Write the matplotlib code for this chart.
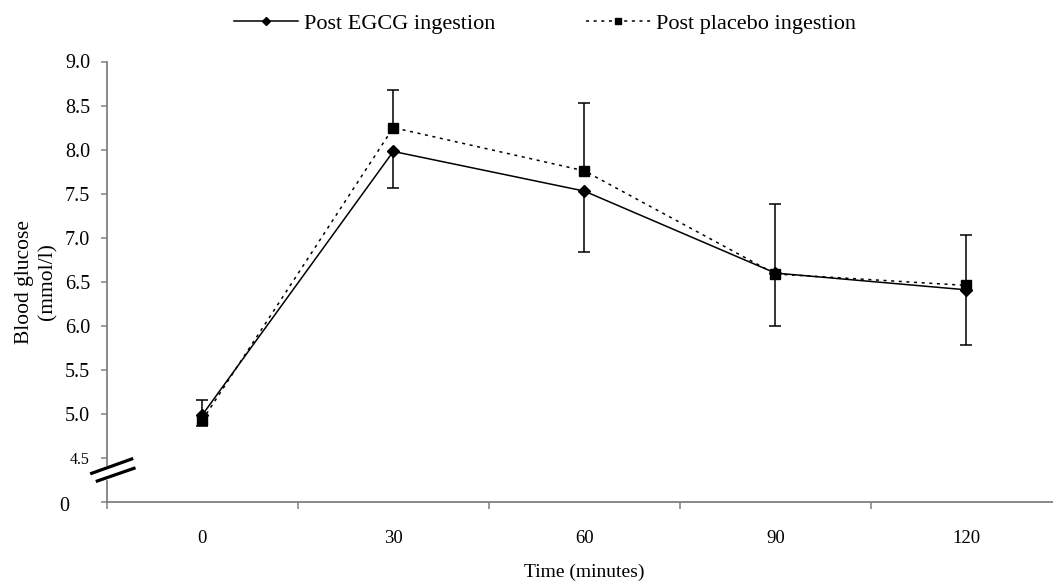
import numpy as np
import matplotlib
matplotlib.use("Agg")
import matplotlib.pyplot as plt
from matplotlib.lines import Line2D
from matplotlib.transforms import ScaledTranslation

plt.rcParams["font.family"] = ["Liberation Serif", "DejaVu Serif"]

# --- data ---
time_labels = ["0", "30", "60", "90", "120"]
egcg = [4.99, 7.98, 7.53, 6.60, 6.41]
egcg_err_low = [0.13, 0.42, 0.69, 0.60, 0.63]
placebo = [4.93, 8.25, 7.76, 6.59, 6.46]
placebo_err_up = [0.23, 0.43, 0.77, 0.79, 0.57]
ytick_vals = [4.0, 4.5, 5.0, 5.5, 6.0, 6.5, 7.0, 7.5, 8.0, 8.5, 9.0]
ytick_labels = ["0", "4.5", "5.0", "5.5", "6.0", "6.5", "7.0", "7.5", "8.0", "8.5", "9.0"]

W, H = 1053, 583
fig = plt.figure(figsize=(W / 100, H / 100), dpi=100)
ax = fig.add_axes([106.7 / W, 1 - 502.3 / H, (1062 - 106.7) / W, (502.3 - 61.5) / H])

x = np.arange(len(time_labels))
dotted = (0, (2.0, 3.0))
grey = "#808080"

# EGCG: solid, diamonds, error bars downward
eb1 = ax.errorbar(x, egcg, yerr=[egcg_err_low, np.zeros(len(x))], color="black",
                  lw=1.1, marker="D", ms=6.5, capsize=4.3, capthick=1.1,
                  elinewidth=1.1, zorder=3)
eb1[1][1].set_visible(False)

# placebo: dotted, squares, error bars upward
eb2 = ax.errorbar(x, placebo, yerr=[np.zeros(len(x)), placebo_err_up], color="black",
                  lw=1.1, ls=dotted, marker="s", ms=6.5, capsize=4.3, capthick=1.1,
                  elinewidth=1.1, zorder=4)
eb2[1][0].set_visible(False)

ax.set_xlim(-0.5, len(x) - 0.5)
ax.set_ylim(4.0, 9.0)

# x axis: category labels centred, ticks on the boundaries
ax.set_xticks(x)
ax.set_xticklabels(time_labels, fontsize=13.5)
ax.set_xticks(np.arange(-0.5, len(x)), minor=True)
ax.tick_params(axis="x", which="major", length=0, pad=20)
ax.tick_params(axis="x", which="minor", length=5, width=1.1, color=grey, direction="out")

ax.set_yticks(ytick_vals)
ax.set_yticklabels(ytick_labels, fontsize=14.5)
ax.tick_params(axis="y", length=4, width=1.1, color=grey, pad=8)
labs = ax.get_yticklabels()
labs[0].set_transform(labs[0].get_transform() + ScaledTranslation(-21 / 100, -2 / 100, fig.dpi_scale_trans))
labs[1].set_fontsize(11.5)

for s in ["top", "right"]:
    ax.spines[s].set_visible(False)
ax.spines["bottom"].set_color(grey)
ax.spines["bottom"].set_linewidth(1.3)
ax.spines["left"].set_color(grey)
ax.spines["left"].set_linewidth(1.3)
ax.spines["left"].set_bounds(4.42, 9.0)
# lower piece of the broken y axis
ax.plot([-0.5, -0.5], [4.0, 4.24], color=grey, lw=1.3, clip_on=False, zorder=2)

# axis break marks
for (x0, y0, x1, y1) in [(91.7, 473.3, 131.7, 459.0), (97.3, 481.0, 134.0, 468.3)]:
    fig.add_artist(Line2D([x0 / W, x1 / W], [1 - y0 / H, 1 - y1 / H],
                          transform=fig.transFigure, color="black", lw=2.3))

ax.set_xlabel("Time (minutes)", fontsize=14, labelpad=12)
ax.set_ylabel("Blood glucose\n(mmol/l)", fontsize=15.5, labelpad=1, linespacing=1.3)

handles = [
    Line2D([], [], color="black", lw=1.1, marker="D", ms=4.5),
    Line2D([], [], color="black", lw=1.1, ls=dotted, marker="s", ms=5),
]
fig.legend(handles, ["Post EGCG ingestion", "Post placebo ingestion"],
           loc="center", bbox_to_anchor=(545 / W, 1 - 24 / H), ncol=2,
           frameon=False, fontsize=16, handlelength=2.9, handletextpad=0.25,
           columnspacing=4.1)

fig.savefig("out.png", dpi=100)
